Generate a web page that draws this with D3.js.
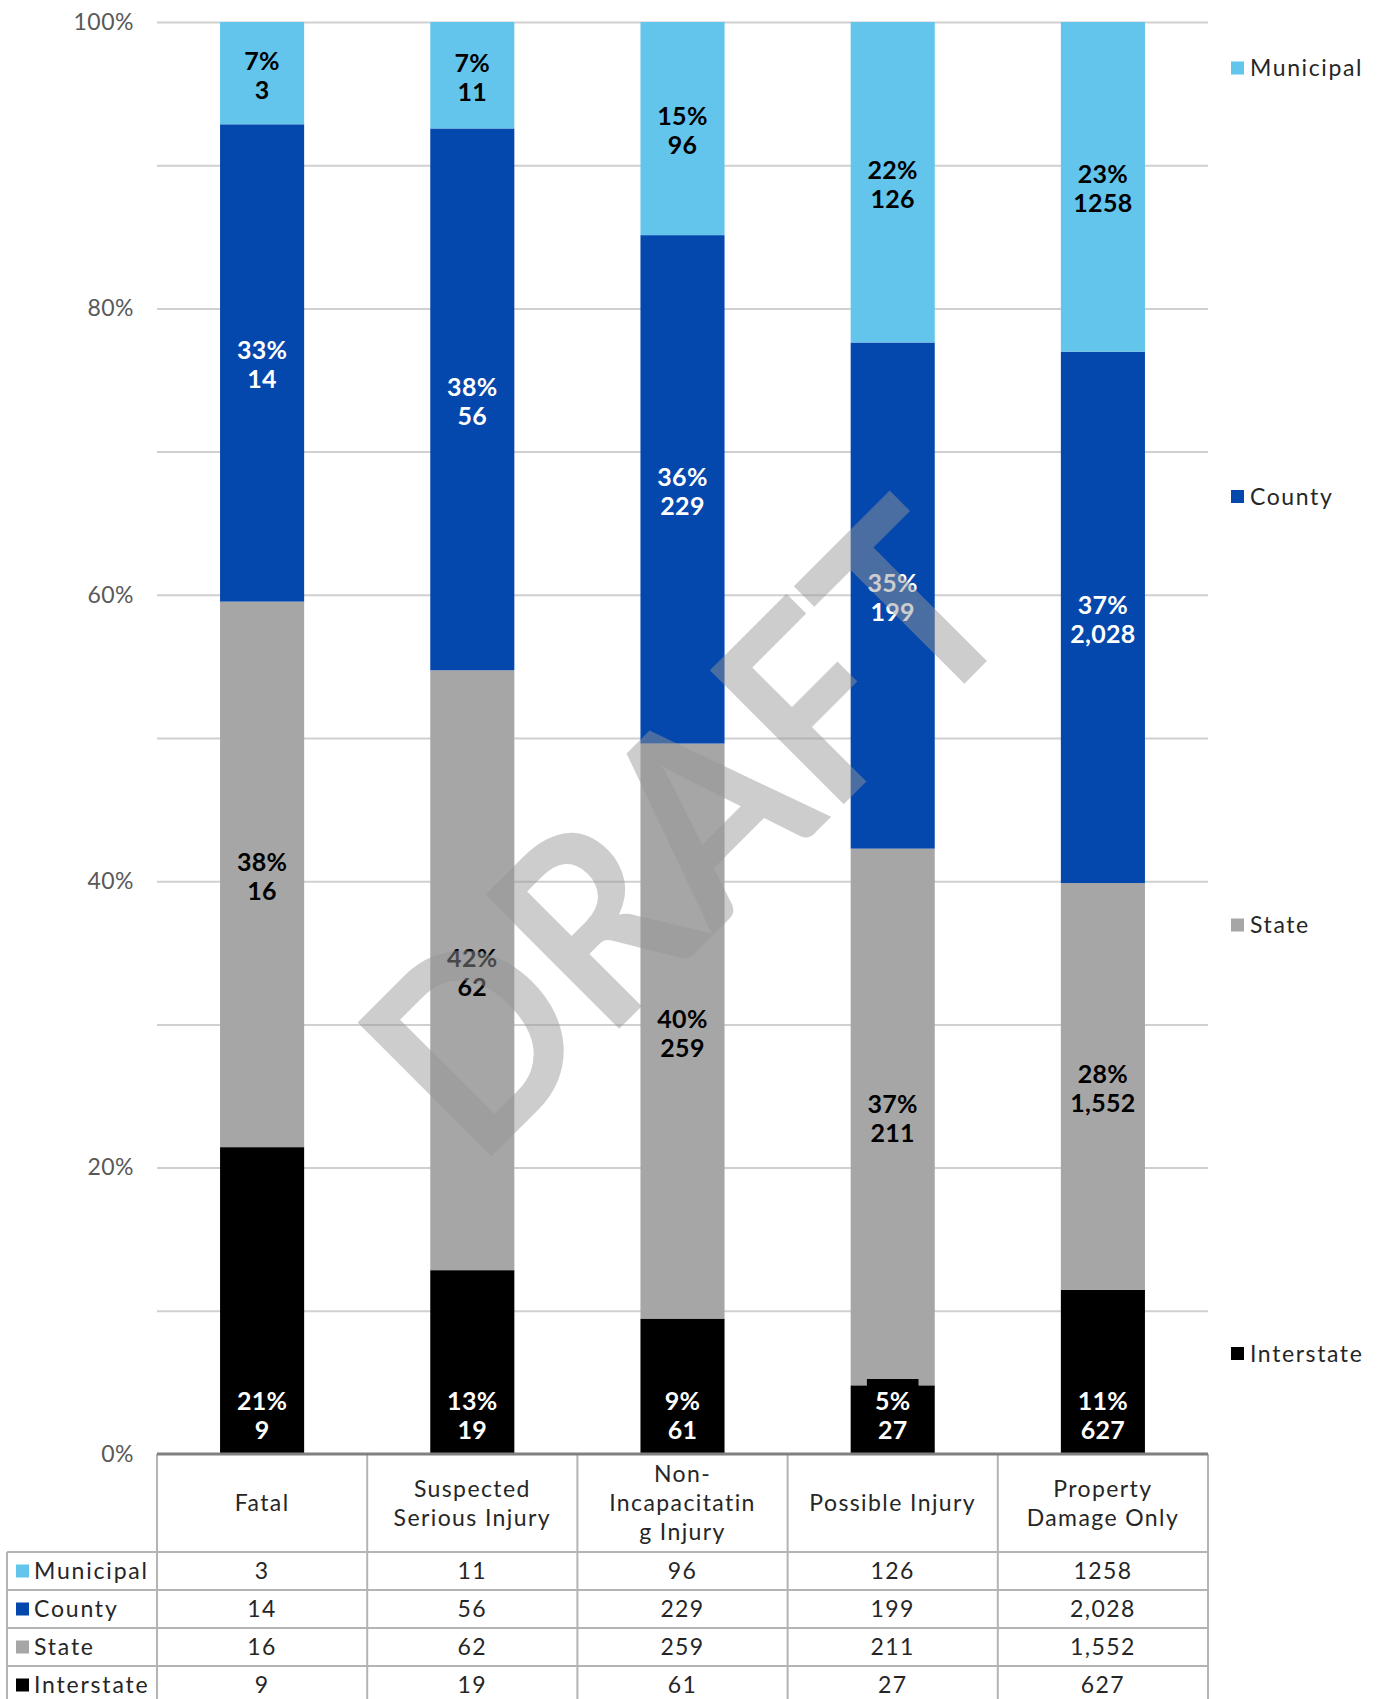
<!DOCTYPE html>
<html>
<head>
<meta charset="utf-8">
<script src="https://cdn.jsdelivr.net/npm/d3@7/dist/d3.min.js"></script>
<style>
  html, body { margin: 0; padding: 0; background: #ffffff; }
  svg { display: block; }
  text { font-family: Lato, "Open Sans", sans-serif; }
</style>
</head>
<body>
<svg id="chart" width="1382" height="1699"></svg>
<script>
// Crash severity categories (x axis / table columns)
const categories = ["Fatal", "Suspected Serious Injury", "Non-Incapacitating Injury", "Possible Injury", "Property Damage Only"];
// Header lines as they wrap inside the table cells
const categoryLines = [["Fatal"], ["Suspected", "Serious Injury"], ["Non-", "Incapacitatin", "g Injury"], ["Possible Injury"], ["Property", "Damage Only"]];

// Roadway jurisdiction series, stacked bottom to top
const seriesNames = ["Interstate", "State", "County", "Municipal"];
const interstate = [9, 19, 61, 27, 627];
const state = [16, 62, 259, 211, 1552];
const county = [14, 56, 229, 199, 2028];
const municipal = [3, 11, 96, 126, 1258];

const seriesColors = { Municipal: "#63c5ec", County: "#0447ad", State: "#a6a6a6", Interstate: "#000000" };
const labelColors = { Municipal: "#000000", County: "#ffffff", State: "#000000", Interstate: "#ffffff" };
// Municipal counts are printed without a thousands separator
const countFormats = { Municipal: d3.format("d"), County: d3.format(","), State: d3.format(","), Interstate: d3.format(",") };

// Row order in the data table (top to bottom)
const tableOrder = ["Municipal", "County", "State", "Interstate"];
const gridTicks = [0.1, 0.2, 0.3, 0.4, 0.5, 0.6, 0.7, 0.8, 0.9, 1.0];
const axisTicks = [0, 0.2, 0.4, 0.6, 0.8, 1.0];

const valuesBySeries = { Interstate: interstate, State: state, County: county, Municipal: municipal };

// Table of rows for the stack layout
const rows = categories.map((c, i) => {
  const r = { category: c };
  seriesNames.forEach(s => { r[s] = valuesBySeries[s][i]; });
  return r;
});

const svg = d3.select("#chart");
const plot = { left: 157, right: 1208, top: 22, bottom: 1454 };
const bodyFont = { size: "23px", spacing: "1.4px", color: "#262626" };

const x = d3.scaleBand()
  .domain(categories)
  .range([plot.left, plot.right])
  .paddingInner(0.6)
  .paddingOuter(0.3);

const y = d3.scaleLinear().domain([0, 1]).range([plot.bottom, plot.top]);

const stack = d3.stack().keys(seriesNames).offset(d3.stackOffsetExpand);
const layers = stack(rows);

// Horizontal gridlines every 10%
const grid = svg.append("g")
  .attr("transform", `translate(${plot.left},0)`)
  .call(d3.axisLeft(y).tickValues(gridTicks).tickSize(-(plot.right - plot.left)).tickFormat(""));
grid.select(".domain").remove();
grid.selectAll("line").attr("stroke", "#d0d0d0").attr("stroke-width", 2);

// Percentage tick labels every 20%
const yAxis = svg.append("g")
  .attr("transform", `translate(${plot.left},0)`)
  .call(d3.axisLeft(y).tickValues(axisTicks).tickSize(0).tickPadding(23).tickFormat(d3.format(".0%")));
yAxis.select(".domain").remove();
yAxis.selectAll("text")
  .attr("fill", "#595959")
  .style("font-size", "23px")
  .style("font-family", "Lato, sans-serif")
  .style("letter-spacing", "0.5px");

// Stacked 100% bars
const barGroups = svg.append("g").selectAll("g")
  .data(layers)
  .join("g")
  .attr("fill", d => seriesColors[d.key]);

barGroups.selectAll("rect")
  .data(d => d.map(p => ({ key: d.key, p })))
  .join("rect")
  .attr("x", d => x(d.p.data.category))
  .attr("width", x.bandwidth())
  .attr("y", d => y(d.p[1]))
  .attr("height", d => y(d.p[0]) - y(d.p[1]));

// Data labels: percentage share on the first line, count on the second
const labelData = [];
layers.forEach(layer => {
  layer.forEach(p => {
    const total = seriesNames.reduce((s, k) => s + p.data[k], 0);
    const v = p.data[layer.key];
    const cx = x(p.data.category) + x.bandwidth() / 2;
    // Interstate labels sit at the inside base; the rest are centred in their segment
    const cy = layer.key === "Interstate" ? plot.bottom - 39 : (y(p[0]) + y(p[1])) / 2 + 2;
    labelData.push({
      key: layer.key,
      cx, cy,
      pct: Math.round(v / total * 100) + "%",
      count: countFormats[layer.key](v)
    });
  });
});

const labelLayer = svg.append("g");
const labels = labelLayer.selectAll("g")
  .data(labelData)
  .join("g")
  .attr("transform", d => `translate(${d.cx},${d.cy})`);

// Interstate labels carry a black fill box
labels.filter(d => d.key === "Interstate")
  .append("rect")
  .attr("class", "label-box")
  .attr("fill", "#000000");

labels.append("text")
  .attr("text-anchor", "middle")
  .attr("fill", d => labelColors[d.key])
  .style("font-size", "25px")
  .style("font-weight", "700")
  .style("letter-spacing", "0.3px")
  .selectAll("tspan")
  .data(d => [d.pct, d.count])
  .join("tspan")
  .attr("x", 0)
  .attr("y", (d, i) => i === 0 ? -14.5 : 14.5)
  .attr("dy", "0.36em")
  .text(d => d);

labels.filter(d => d.key === "Interstate").each(function() {
  const g = d3.select(this);
  const bb = g.select("text").node().getBBox();
  g.select("rect.label-box")
    .attr("x", -bb.width / 2 - 8)
    .attr("width", bb.width + 16)
    .attr("y", -36)
    .attr("height", 72);
});

// Legend on the right
const legend = svg.append("g").selectAll("g")
  .data(tableOrder)
  .join("g")
  .attr("transform", (d, i) => `translate(1231,${68 + i * 428.5})`);
legend.append("rect")
  .attr("x", 0).attr("y", -6.5)
  .attr("width", 13).attr("height", 13)
  .attr("fill", d => seriesColors[d]);
legend.append("text")
  .attr("x", 19)
  .attr("dy", "0.36em")
  .attr("fill", bodyFont.color)
  .style("font-size", bodyFont.size)
  .style("letter-spacing", "1.6px")
  .text(d => d);

// Data table beneath the plot
const table = svg.append("g");
const headerTop = plot.bottom, headerBottom = 1552, rowH = 38;
const tableLeft = 7;
const lineColor = "#b4b4b4";
const colEdges = d3.range(categories.length + 1).map(i => plot.left + i * x.step());
const tableBottom = headerBottom + rowH * tableOrder.length;

// Horizontal row lines
[headerBottom].concat(tableOrder.map((d, i) => headerBottom + rowH * (i + 1))).forEach(yy => {
  table.append("line")
    .attr("x1", tableLeft).attr("x2", plot.right)
    .attr("y1", yy).attr("y2", yy)
    .attr("stroke", lineColor).attr("stroke-width", 2);
});
// Vertical column lines
colEdges.forEach(xx => {
  table.append("line")
    .attr("x1", xx).attr("x2", xx)
    .attr("y1", headerTop).attr("y2", tableBottom)
    .attr("stroke", lineColor).attr("stroke-width", 2);
});
table.append("line")
  .attr("x1", tableLeft).attr("x2", tableLeft)
  .attr("y1", headerBottom).attr("y2", tableBottom)
  .attr("stroke", lineColor).attr("stroke-width", 2);

// Header cells
const header = table.selectAll("g.hdr")
  .data(categories)
  .join("g")
  .attr("class", "hdr")
  .attr("transform", d => `translate(${x(d) + x.bandwidth() / 2},${(headerTop + headerBottom) / 2})`);
header.append("text")
  .attr("text-anchor", "middle")
  .attr("fill", bodyFont.color)
  .style("font-size", bodyFont.size)
  .style("letter-spacing", bodyFont.spacing)
  .selectAll("tspan")
  .data((d, i) => categoryLines[i].map((t, j, arr) => ({ t, off: (j - (arr.length - 1) / 2) * 29 })))
  .join("tspan")
  .attr("x", 0)
  .attr("y", d => d.off)
  .attr("dy", "0.36em")
  .text(d => d.t);

// Body rows: legend key + values
const bodyRows = table.selectAll("g.row")
  .data(tableOrder)
  .join("g")
  .attr("class", "row")
  .attr("transform", (d, i) => `translate(0,${headerBottom + rowH * i + rowH / 2})`);
bodyRows.append("rect")
  .attr("x", 16).attr("y", -6.5)
  .attr("width", 13).attr("height", 13)
  .attr("fill", d => seriesColors[d]);
bodyRows.append("text")
  .attr("x", 34)
  .attr("dy", "0.36em")
  .attr("fill", bodyFont.color)
  .style("font-size", bodyFont.size)
  .style("letter-spacing", "1.8px")
  .text(d => d);
bodyRows.each(function(s) {
  d3.select(this).selectAll("text.val")
    .data(valuesBySeries[s])
    .join("text")
    .attr("class", "val")
    .attr("x", (v, i) => x(categories[i]) + x.bandwidth() / 2)
    .attr("dy", "0.36em")
    .attr("text-anchor", "middle")
    .attr("fill", bodyFont.color)
    .style("font-size", bodyFont.size)
    .style("letter-spacing", bodyFont.spacing)
    .text(v => countFormats[s](v));
});

// Category axis baseline
svg.append("line")
  .attr("x1", plot.left).attr("x2", plot.right)
  .attr("y1", plot.bottom).attr("y2", plot.bottom)
  .attr("stroke", "#808080").attr("stroke-width", 3);

// DRAFT watermark laid over the chart
svg.append("g")
  .attr("transform", "translate(752,896) rotate(-45)")
  .append("text")
  .attr("x", 0)
  .attr("y", 0)
  .attr("text-anchor", "middle")
  .attr("textLength", 775)
  .attr("lengthAdjust", "spacingAndGlyphs")
  .attr("fill", "rgb(150,150,150)")
  .attr("fill-opacity", 0.48)
  .style("font-size", "262px")
  .style("font-weight", "700")
  .text("DRAFT");
</script>
</body>
</html>
